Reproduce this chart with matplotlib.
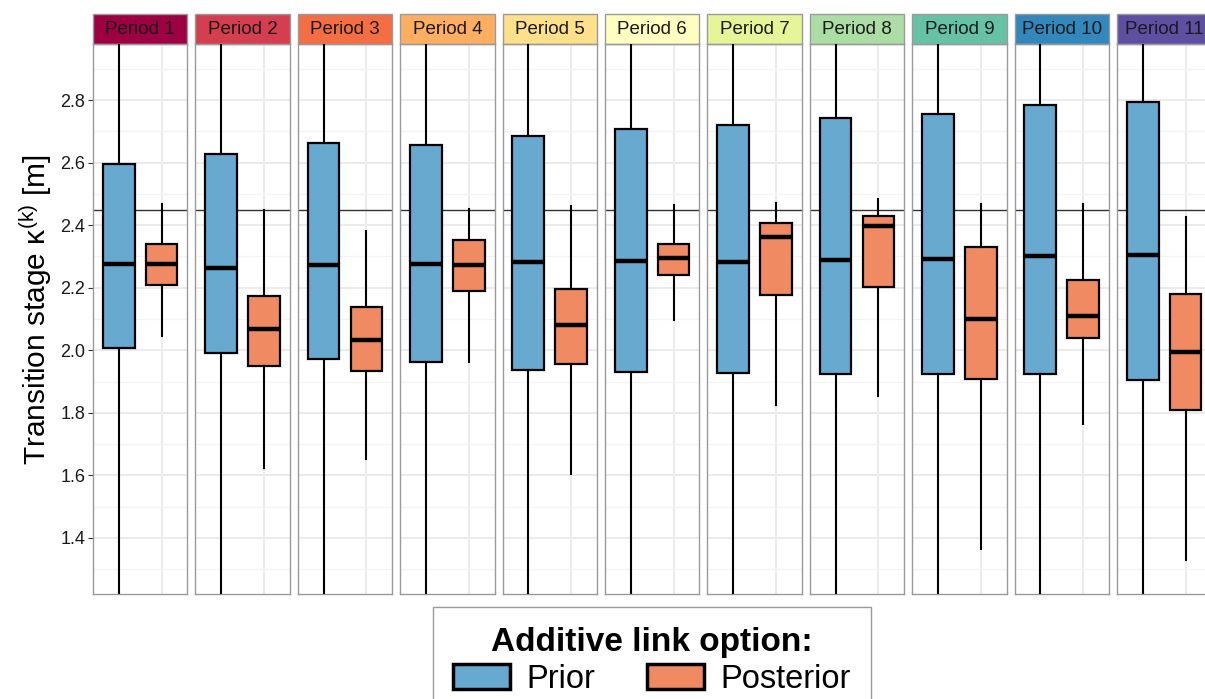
import matplotlib
matplotlib.use("Agg")
import matplotlib.pyplot as plt
from matplotlib.patches import Rectangle, Patch

plt.rcParams['font.family'] = ['Liberation Sans', 'DejaVu Sans']
plt.rcParams['mathtext.fontset'] = 'custom'
plt.rcParams['mathtext.rm'] = 'Liberation Sans'
plt.rcParams['mathtext.it'] = 'Liberation Sans'

# ---------------- data ----------------
periods = ["Period 1", "Period 2", "Period 3", "Period 4", "Period 5", "Period 6",
           "Period 7", "Period 8", "Period 9", "Period 10", "Period 11"]
strip_colors = ["#9E0142", "#D53E4F", "#F46D43", "#FDAE61", "#FEE08B", "#FFFFBF",
                "#E6F598", "#ABDDA4", "#66C2A5", "#3288BD", "#5E4FA2"]
groups = ["Prior", "Posterior"]
group_colors = ["#67A9CF", "#EF8A62"]

prior_q1 = [2.008, 1.990, 1.973, 1.963, 1.937, 1.932, 1.927, 1.925, 1.923, 1.924, 1.905]
prior_med = [2.275, 2.264, 2.273, 2.277, 2.281, 2.285, 2.281, 2.289, 2.293, 2.300, 2.305]
prior_q3 = [2.596, 2.626, 2.661, 2.657, 2.686, 2.707, 2.720, 2.743, 2.755, 2.785, 2.795]
prior_lo = [0.90, 0.90, 0.90, 0.90, 0.90, 0.90, 0.90, 0.90, 0.90, 0.90, 0.90]
prior_hi = [3.40, 3.40, 3.40, 3.40, 3.40, 3.40, 3.40, 3.40, 3.40, 3.40, 3.40]

post_q1 = [2.209, 1.951, 1.935, 2.189, 1.956, 2.242, 2.176, 2.201, 1.908, 2.040, 1.810]
post_med = [2.275, 2.069, 2.034, 2.274, 2.080, 2.294, 2.362, 2.398, 2.100, 2.110, 1.995]
post_q3 = [2.339, 2.174, 2.137, 2.352, 2.197, 2.340, 2.408, 2.429, 2.331, 2.226, 2.179]
post_lo = [2.047, 1.625, 1.653, 1.963, 1.604, 2.096, 1.826, 1.855, 1.364, 1.763, 1.331]
post_hi = [2.468, 2.450, 2.382, 2.453, 2.460, 2.463, 2.470, 2.483, 2.467, 2.467, 2.425]

ref_level = 2.45
y_limits = (1.221, 2.979)
y_major = [1.4, 1.6, 1.8, 2.0, 2.2, 2.4, 2.6, 2.8]
y_minor = [1.3, 1.5, 1.7, 1.9, 2.1, 2.3, 2.5, 2.7, 2.9]
y_ticklabels = ["1.4", "1.6", "1.8", "2.0", "2.2", "2.4", "2.6", "2.8"]

# ---------------- layout ----------------
W, H = 1205, 699
fig = plt.figure(figsize=(W / 100, H / 100), dpi=100)

panel_left0 = 93
panel_step = 102.4
panel_w = 94.3
panel_top = 44
panel_bot = 594
strip_h = 30
border_col = "#9A9A9A"

for i, name in enumerate(periods):
    left = (panel_left0 + i * panel_step) / W
    ax = fig.add_axes([left, 1 - panel_bot / H, panel_w / W, (panel_bot - panel_top) / H])
    ax.set_xlim(0.4, 2.6)
    ax.set_ylim(*y_limits)
    ax.set_yticks(y_major)
    ax.set_yticks(y_minor, minor=True)
    ax.set_xticks([1, 2])
    ax.grid(True, which='major', axis='both', color='#EBEBEB', linewidth=1.4, zorder=0)
    ax.grid(True, which='minor', axis='y', color='#F4F4F4', linewidth=0.9, zorder=0)
    ax.set_axisbelow(True)
    ax.tick_params(axis='x', which='both', length=0, labelbottom=False)
    if i == 0:
        ax.set_yticklabels(y_ticklabels)
        ax.tick_params(axis='y', which='major', length=3.5, width=0.8, color='#333333',
                       labelsize=13, labelcolor='#1A1A1A', pad=2)
        ax.tick_params(axis='y', which='minor', length=0)
    else:
        ax.tick_params(axis='y', which='both', length=0, labelleft=False)
    for sp in ax.spines.values():
        sp.set_color(border_col)
        sp.set_linewidth(1.0)

    ax.axhline(ref_level, color='#333333', linewidth=1.0, zorder=1)

    stats = [
        dict(med=prior_med[i], q1=prior_q1[i], q3=prior_q3[i],
             whislo=prior_lo[i], whishi=prior_hi[i], fliers=[]),
        dict(med=post_med[i], q1=post_q1[i], q3=post_q3[i],
             whislo=post_lo[i], whishi=post_hi[i], fliers=[]),
    ]
    bp = ax.bxp(stats, positions=[1, 2], widths=0.74, patch_artist=True,
                showcaps=False, showfliers=False,
                boxprops=dict(linewidth=1.6, edgecolor='black'),
                whiskerprops=dict(linewidth=1.5, color='black'),
                medianprops=dict(linewidth=3.2, color='black', solid_capstyle='butt'),
                zorder=3)
    for patch, c in zip(bp['boxes'], group_colors):
        patch.set_facecolor(c)

    # strip
    ax.add_patch(Rectangle((0, 1), 1, strip_h / (panel_bot - panel_top),
                           transform=ax.transAxes, clip_on=False,
                           facecolor=strip_colors[i], edgecolor=border_col, linewidth=1.0))
    ax.text(0.5, 1 + (strip_h / 2) / (panel_bot - panel_top), name,
            transform=ax.transAxes, ha='center', va='center',
            fontsize=13.5, color='#1A1A1A')

fig.text(36 / W, 1 - 310 / H, r"Transition stage κ$^{(k)}$ [m]", rotation=90,
         ha='center', va='center', fontsize=21.5, color='black')

handles = [Patch(facecolor=c, edgecolor='black', linewidth=2.5, label=g)
           for g, c in zip(groups, group_colors)]
leg = fig.legend(handles=handles, loc='upper center',
                 bbox_to_anchor=(652 / W, 1 - 607 / H), ncol=2,
                 fontsize=23.5, title="Additive link option:",
                 title_fontproperties={'weight': 'bold', 'size': 24},
                 frameon=True, fancybox=False, edgecolor=border_col,
                 framealpha=1, handlelength=1.75, handleheight=0.8,
                 handletextpad=0.5, columnspacing=1.6, borderpad=0.6,
                 borderaxespad=0, labelspacing=0.2)
leg.get_frame().set_linewidth(1.0)

fig.savefig("out.png", dpi=100)
